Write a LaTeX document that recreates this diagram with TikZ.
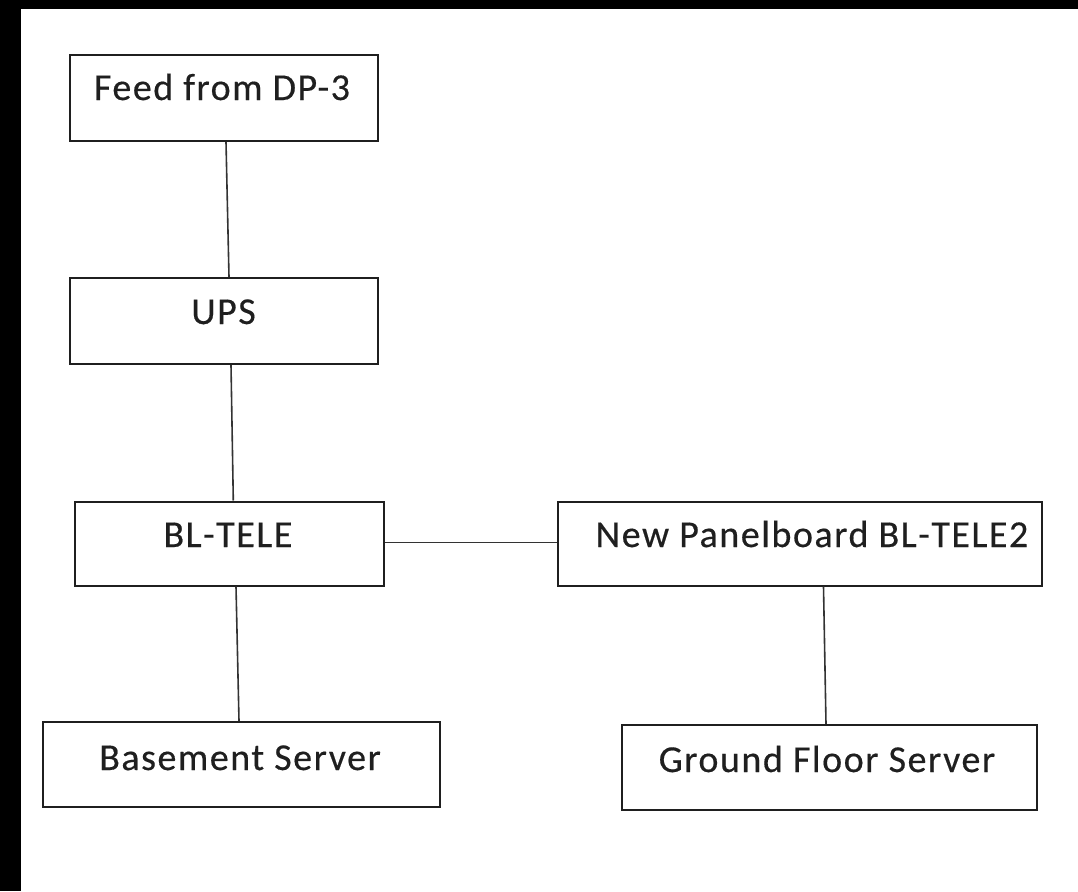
\documentclass[tikz,border=0pt]{standalone}
\usepackage{fontspec}
\setmainfont{Carlito}[LetterSpace=4,FakeBold=0.4]
\begin{document}
\begin{tikzpicture}[x=1pt,y=-1pt,
  box/.style={draw=black!88,line width=2pt,inner sep=0pt,rectangle},
  txt/.style={anchor=base,inner sep=0pt,text=black!88,font=\fontsize{38}{42}\selectfont},
  wire/.style={draw=black!80,line width=1.6pt}]
\useasboundingbox (0,0) rectangle (1078,891);
\fill[black] (0,0) rectangle (1078,891);
\fill[white] (21,9) rectangle (1078,891);
% boxes
\node[box,minimum width=308pt,minimum height=86pt] (feed) at (224,98) {};
\node[box,minimum width=308pt,minimum height=86pt] (ups) at (224,321) {};
\node[box,minimum width=309pt,minimum height=84pt] (bltele) at (229.5,543.5) {};
\node[box,minimum width=484pt,minimum height=84pt] (newpb) at (800,543.5) {};
\node[box,minimum width=397pt,minimum height=85pt] (base) at (241.5,764.5) {};
\node[box,minimum width=415pt,minimum height=85pt] (ground) at (829.5,767.5) {};
% texts
\node[txt] (feedt) at (222,100) {Feed from DP-3};
\node[txt] (upst) at (223.5,324) {UPS};
\node[txt] (bltelet) at (228,547) {BL-TELE};
\node[txt] (newpbt) at (812,547) {New Panelboard BL-TELE2};
\node[txt] (baset) at (240,770) {Basement Server};
\node[txt] (groundt) at (827,772) {Ground Floor Server};
% connectors
\draw[wire] ([xshift=2pt]feed.south) -- ([xshift=5pt]ups.north);
\draw[wire] ([xshift=7pt]ups.south) -- ([xshift=3.8pt]bltele.north);
\draw[wire] ([xshift=6.5pt]bltele.south) -- ([xshift=-2.5pt]base.north);
\draw[wire] ([yshift=1pt]bltele.east) -- ([yshift=1pt]newpb.west);
\draw[wire] ([xshift=23.5pt]newpb.south) -- ([xshift=-3.5pt]ground.north);
\end{tikzpicture}
\end{document}
